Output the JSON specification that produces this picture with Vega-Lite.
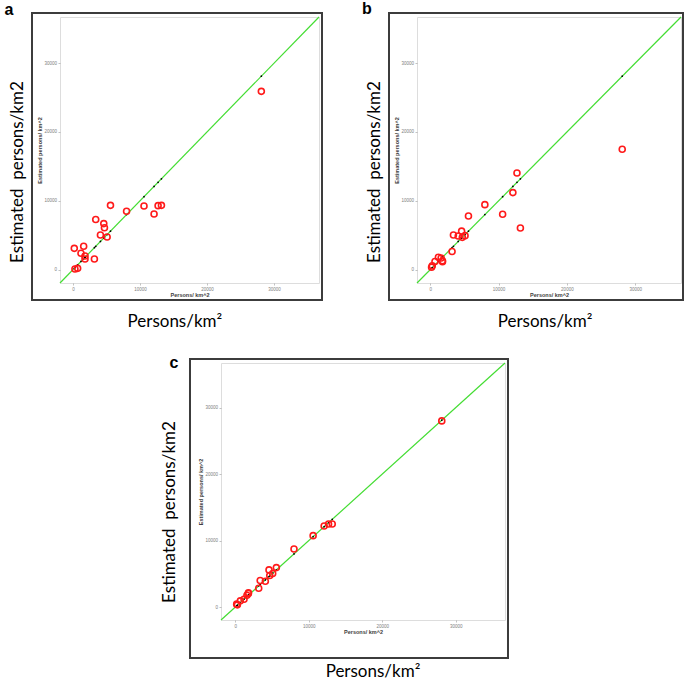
{
  "$schema": "https://vega.github.io/schema/vega-lite/v6.json",
  "background": "white",
  "padding": {"left": 4, "top": 0, "right": 0, "bottom": 0},
  "config": {
    "font": "Liberation Sans",
    "view": {"stroke": "#dddddd", "strokeWidth": 1},
    "axis": {"grid": false, "domain": false, "labelFontSize": 4.5, "labelColor": "#808080", "tickColor": "#999999", "tickSize": 2, "tickWidth": 0.6, "labelPadding": 1.5, "titleFontSize": 5.5, "titleFontWeight": "bold", "titleColor": "#404040", "titlePadding": 1.5}
  },
  "datasets": {
    "a": [
      {"obs": 200, "est": 3100}, {"obs": 300, "est": 100}, {"obs": 700, "est": 200}, {"obs": 1200, "est": 2400},
      {"obs": 1600, "est": 3400}, {"obs": 1800, "est": 2000}, {"obs": 1800, "est": 1550}, {"obs": 3200, "est": 1550},
      {"obs": 3400, "est": 7300}, {"obs": 4100, "est": 5050}, {"obs": 4600, "est": 6700}, {"obs": 4700, "est": 6100},
      {"obs": 5100, "est": 4750}, {"obs": 5600, "est": 9350}, {"obs": 8000, "est": 8500}, {"obs": 10600, "est": 9250},
      {"obs": 12100, "est": 8100}, {"obs": 12700, "est": 9300}, {"obs": 13200, "est": 9350}, {"obs": 28100, "est": 25900}
    ],
    "b": [
      {"obs": 200, "est": 350}, {"obs": 300, "est": 580}, {"obs": 700, "est": 1200}, {"obs": 1200, "est": 1800},
      {"obs": 1600, "est": 1700}, {"obs": 1800, "est": 1150}, {"obs": 1800, "est": 1300}, {"obs": 3200, "est": 2650},
      {"obs": 3400, "est": 5050}, {"obs": 4100, "est": 4900}, {"obs": 4600, "est": 5600}, {"obs": 4700, "est": 4700},
      {"obs": 5100, "est": 4950}, {"obs": 5600, "est": 7800}, {"obs": 8000, "est": 9450}, {"obs": 10600, "est": 8050},
      {"obs": 12100, "est": 11200}, {"obs": 12700, "est": 14050}, {"obs": 13200, "est": 6050}, {"obs": 28100, "est": 17500}
    ],
    "c": [
      {"obs": 200, "est": 450}, {"obs": 300, "est": 350}, {"obs": 700, "est": 950}, {"obs": 1200, "est": 1200},
      {"obs": 1600, "est": 1800}, {"obs": 1800, "est": 2150}, {"obs": 1800, "est": 2050}, {"obs": 3200, "est": 2850},
      {"obs": 3400, "est": 4000}, {"obs": 4100, "est": 3900}, {"obs": 4600, "est": 5600}, {"obs": 4700, "est": 4750},
      {"obs": 5100, "est": 5050}, {"obs": 5600, "est": 5950}, {"obs": 8000, "est": 8750}, {"obs": 10600, "est": 10750},
      {"obs": 12100, "est": 12200}, {"obs": 12700, "est": 12500}, {"obs": 13200, "est": 12500}, {"obs": 28100, "est": 28000}
    ]
  },
  "bounds": "flush",
  "spacing": 346,
  "vconcat": [
    {
      "bounds": "flush",
      "spacing": 98,
      "hconcat": [
        {
          "width": 259, "height": 266,
          "layer": [
            {"data": {"values": [{}]}, "mark": {"type": "rect", "fill": null, "stroke": "#3c3c3c", "strokeWidth": 2, "clip": false},
             "encoding": {"x": {"datum": -6106, "type": "quantitative"}, "x2": {"datum": 37147}, "y": {"datum": 37273, "type": "quantitative"}, "y2": {"datum": -4400}}},
            {"data": {"values": [{}]}, "mark": {"type": "rule", "color": "#44dd33", "strokeWidth": 1.2},
             "encoding": {"x": {"datum": -1930, "type": "quantitative"}, "x2": {"datum": 36700}, "y": {"datum": -1930, "type": "quantitative"}, "y2": {"datum": 36700}}},
            {"data": {"name": "a"}, "mark": {"type": "point", "filled": true, "color": "black", "size": 3, "opacity": 1},
             "encoding": {"x": {"field": "obs", "type": "quantitative"}, "y": {"field": "obs", "type": "quantitative"}}},
            {"data": {"name": "a"}, "mark": {"type": "point", "shape": "circle", "filled": false, "color": "#ff1a1a", "strokeWidth": 1.6, "size": 36, "opacity": 1},
             "encoding": {
               "x": {"field": "obs", "type": "quantitative", "scale": {"domain": [-1930, 36700], "nice": false, "zero": false}, "axis": {"title": "Persons/ km^2", "values": [0, 10000, 20000, 30000], "format": "d"}},
               "y": {"field": "est", "type": "quantitative", "scale": {"domain": [-1930, 36700], "nice": false, "zero": false}, "axis": {"title": "Estimated persons/ km^2", "values": [0, 10000, 20000, 30000], "format": "d"}}}},
            {"data": {"values": [{}]}, "mark": {"type": "text", "text": "a", "font": "Liberation Sans", "fontWeight": "bold", "fontSize": 16, "align": "center", "baseline": "middle", "clip": false},
             "encoding": {"x": {"datum": -9537, "type": "quantitative"}, "y": {"datum": 37709, "type": "quantitative"}}},
            {"data": {"values": [{}]}, "mark": {"type": "text", "text": "Estimated\u00a0 persons/km2", "font": "Lato", "fontSize": 17, "angle": 270, "align": "center", "baseline": "alphabetic", "color": "black", "clip": false},
             "encoding": {"x": {"datum": -7449, "type": "quantitative"}, "y": {"datum": 14186, "type": "quantitative"}}},
            {"data": {"values": [{}]}, "mark": {"type": "text", "text": "Persons/km²", "font": "Lato", "fontSize": 17, "align": "center", "baseline": "alphabetic", "color": "black", "clip": false},
             "encoding": {"x": {"datum": 15200, "type": "quantitative"}, "y": {"datum": -8320, "type": "quantitative"}}}
          ]
        },
        {
          "width": 264, "height": 266,
          "layer": [
            {"data": {"values": [{}]}, "mark": {"type": "rect", "fill": null, "stroke": "#3c3c3c", "strokeWidth": 2, "clip": false},
             "encoding": {"x": {"datum": -6027, "type": "quantitative"}, "x2": {"datum": 36993}, "y": {"datum": 37273, "type": "quantitative"}, "y2": {"datum": -4400}}},
            {"data": {"values": [{}]}, "mark": {"type": "rule", "color": "#44dd33", "strokeWidth": 1.2},
             "encoding": {"x": {"datum": -1930, "type": "quantitative"}, "x2": {"datum": 36700}, "y": {"datum": -1930, "type": "quantitative"}, "y2": {"datum": 36700}}},
            {"data": {"name": "b"}, "mark": {"type": "point", "filled": true, "color": "black", "size": 3, "opacity": 1},
             "encoding": {"x": {"field": "obs", "type": "quantitative"}, "y": {"field": "obs", "type": "quantitative"}}},
            {"data": {"name": "b"}, "mark": {"type": "point", "shape": "circle", "filled": false, "color": "#ff1a1a", "strokeWidth": 1.6, "size": 36, "opacity": 1},
             "encoding": {
               "x": {"field": "obs", "type": "quantitative", "scale": {"domain": [-1930, 36700], "nice": false, "zero": false}, "axis": {"title": "Persons/ km^2", "values": [0, 10000, 20000, 30000], "format": "d"}},
               "y": {"field": "est", "type": "quantitative", "scale": {"domain": [-1930, 36700], "nice": false, "zero": false}, "axis": {"title": "Estimated persons/ km^2", "values": [0, 10000, 20000, 30000], "format": "d"}}}},
            {"data": {"values": [{}]}, "mark": {"type": "text", "text": "b", "font": "Liberation Sans", "fontWeight": "bold", "fontSize": 16, "align": "center", "baseline": "middle", "clip": false},
             "encoding": {"x": {"datum": -9246, "type": "quantitative"}, "y": {"datum": 37854, "type": "quantitative"}}},
            {"data": {"values": [{}]}, "mark": {"type": "text", "text": "Estimated\u00a0 persons/km2", "font": "Lato", "fontSize": 17, "angle": 270, "align": "center", "baseline": "alphabetic", "color": "black", "clip": false},
             "encoding": {"x": {"datum": -7344, "type": "quantitative"}, "y": {"datum": 14186, "type": "quantitative"}}},
            {"data": {"values": [{}]}, "mark": {"type": "text", "text": "Persons/km²", "font": "Lato", "fontSize": 17, "align": "center", "baseline": "alphabetic", "color": "black", "clip": false},
             "encoding": {"x": {"datum": 16800, "type": "quantitative"}, "y": {"datum": -8320, "type": "quantitative"}}}
          ]
        }
      ]
    },
    {
      "bounds": "flush",
      "spacing": 160,
      "hconcat": [
        {"width": 1, "height": 1, "view": {"stroke": null}, "data": {"values": [{}]}, "mark": {"type": "point", "opacity": 0}},
        {
          "width": 284, "height": 257,
          "layer": [
            {"data": {"values": [{}]}, "mark": {"type": "rect", "fill": null, "stroke": "#3c3c3c", "strokeWidth": 2, "clip": false},
             "encoding": {"x": {"datum": -6147, "type": "quantitative"}, "x2": {"datum": 37107}, "y": {"datum": 37286, "type": "quantitative"}, "y2": {"datum": -7642}}},
            {"data": {"values": [{}]}, "mark": {"type": "rule", "color": "#44dd33", "strokeWidth": 1.2},
             "encoding": {"x": {"datum": -1930, "type": "quantitative"}, "x2": {"datum": 36700}, "y": {"datum": -1930, "type": "quantitative"}, "y2": {"datum": 36700}}},
            {"data": {"name": "c"}, "mark": {"type": "point", "filled": true, "color": "black", "size": 3, "opacity": 1},
             "encoding": {"x": {"field": "obs", "type": "quantitative"}, "y": {"field": "obs", "type": "quantitative"}}},
            {"data": {"name": "c"}, "mark": {"type": "point", "shape": "circle", "filled": false, "color": "#ff1a1a", "strokeWidth": 1.6, "size": 36, "opacity": 1},
             "encoding": {
               "x": {"field": "obs", "type": "quantitative", "scale": {"domain": [-1930, 36700], "nice": false, "zero": false}, "axis": {"title": "Persons/ km^2", "values": [0, 10000, 20000, 30000], "format": "d"}},
               "y": {"field": "est", "type": "quantitative", "scale": {"domain": [-1930, 36700], "nice": false, "zero": false}, "axis": {"title": "Estimated persons/ km^2", "values": [0, 10000, 20000, 30000], "format": "d"}}}},
            {"data": {"values": [{}]}, "mark": {"type": "text", "text": "c", "font": "Liberation Sans", "fontWeight": "bold", "fontSize": 16, "align": "center", "baseline": "middle", "clip": false},
             "encoding": {"x": {"datum": -8323, "type": "quantitative"}, "y": {"datum": 36697, "type": "quantitative"}}},
            {"data": {"values": [{}]}, "mark": {"type": "text", "text": "Estimated\u00a0 persons/km2", "font": "Lato", "fontSize": 17, "angle": 270, "align": "center", "baseline": "alphabetic", "color": "black", "clip": false},
             "encoding": {"x": {"datum": -8187, "type": "quantitative"}, "y": {"datum": 14303, "type": "quantitative"}}},
            {"data": {"values": [{}]}, "mark": {"type": "text", "text": "Persons/km²", "font": "Lato", "fontSize": 17, "align": "center", "baseline": "alphabetic", "color": "black", "clip": false},
             "encoding": {"x": {"datum": 18742, "type": "quantitative"}, "y": {"datum": -10499, "type": "quantitative"}}}
          ]
        }
      ]
    }
  ]
}
